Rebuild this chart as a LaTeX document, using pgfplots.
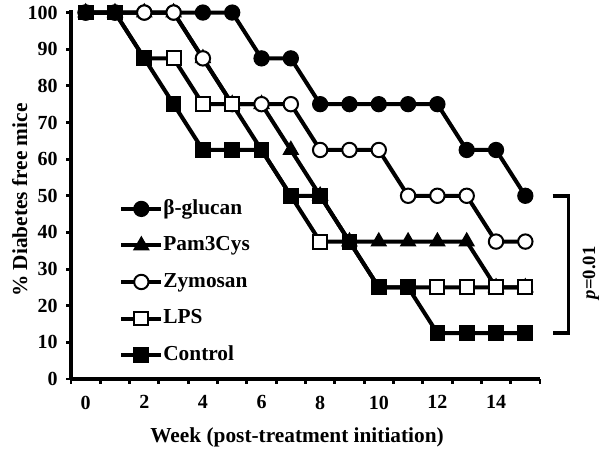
\documentclass[border=0pt]{standalone}
\usepackage{fontspec}
\setmainfont{Liberation Serif}
\usepackage{pgfplots}
\pgfplotsset{compat=1.18}
\begin{document}
\begin{tikzpicture}
\path[use as bounding box] (-53.25pt,-54.75pt) rectangle (396.75pt,284.25pt);
\begin{axis}[
  at={(0pt,0pt)}, anchor=south west,
  scale only axis, width=351.75pt, height=276.75pt,
  xmin=-0.5, xmax=15.5, ymin=0, ymax=100.7,
  axis lines*=left,
  axis line style={line width=2.8pt},
  clip=false,
  xtick={0,2,...,14},
  minor xtick={-0.5,0.5,...,15.5},
  ytick={0,10,...,100},
  tick align=outside,
  major tick length=3.5pt, minor tick length=3.5pt,
  major x tick style={draw=none},
  every tick/.style={line width=2.2pt, black},
  /pgf/number format/assume math mode=true,
  ticklabel style={font=\bfseries\fontsize{15}{18}\selectfont},
  xticklabel style={yshift=-5.5pt},
  yticklabel style={xshift=-3pt},
  xlabel={Week (post-treatment initiation)},
  ylabel={\% Diabetes free mice},
  label style={font=\bfseries\fontsize{16}{19}\selectfont},
  x label style={at={(axis description cs:0.482,0)}, yshift=-43.5pt, anchor=center},
  y label style={at={(axis description cs:-0.109,0.485)}, anchor=center},
  legend style={at={(axis cs:1.14,49.4)}, anchor=north west, draw=none, fill=none,
    inner sep=0pt, row sep=11.4pt,
    font=\bfseries\fontsize{16}{19}\selectfont,
    nodes={inner sep=0pt, text height=12pt, text depth=4pt},
    /tikz/every even column/.append style={column sep=2pt}},
  legend cell align=left,
  legend image code/.code={\draw[mark repeat=2,mark phase=2] plot coordinates {(0pt,0pt) (15pt,0pt) (30pt,0pt)};},
]
\addplot[line width=3pt, mark=*, mark size=5.6pt, mark options={solid, fill=black, line width=1pt}] coordinates {
(0,100) (1,100) (2,100) (3,100) (4,100) (5,100) (6,87.5) (7,87.5) (8,75) (9,75) (10,75) (11,75) (12,75) (13,62.5) (14,62.5) (15,50)};
\addlegendentry{β-glucan}
\addplot[line width=3pt, mark=triangle*, mark size=6.3pt, mark options={solid, fill=black, line width=1pt}] coordinates {
(0,100) (1,100) (2,100) (3,100) (4,87.5) (5,75) (6,75) (7,62.5) (8,50) (9,37.5) (10,37.5) (11,37.5) (12,37.5) (13,37.5) (14,25) (15,25)};
\addlegendentry{Pam3Cys}
\addplot[line width=3pt, mark=*, mark size=5.4pt, mark options={solid, fill=white, draw=black, line width=1.5pt}] coordinates {
(0,100) (1,100) (2,100) (3,100) (4,87.5) (5,75) (6,75) (7,75) (8,62.5) (9,62.5) (10,62.5) (11,50) (12,50) (13,50) (14,37.5) (15,37.5)};
\addlegendentry{Zymosan}
\addplot[line width=3pt, mark=square*, mark size=5.2pt, mark options={solid, fill=white, draw=black, line width=1.5pt}] coordinates {
(0,100) (1,100) (2,87.5) (3,87.5) (4,75) (5,75) (6,62.5) (7,50) (8,37.5) (9,37.5) (10,25) (11,25) (12,25) (13,25) (14,25) (15,25)};
\addlegendentry{LPS}
\addplot[line width=3pt, mark=square*, mark size=5.4pt, mark options={solid, fill=black, line width=1pt}] coordinates {
(0,100) (1,100) (2,87.5) (3,75) (4,62.5) (5,62.5) (6,62.5) (7,50) (8,50) (9,37.5) (10,25) (11,25) (12,12.5) (13,12.5) (14,12.5) (15,12.5)};
\addlegendentry{Control}
\draw[line width=2.6pt] (axis cs:15.93,50) -- (axis cs:16.48,50) -- (axis cs:16.48,12.5) -- (axis cs:15.93,12.5);
\node[rotate=90, font=\bfseries\fontsize{14}{16}\selectfont] at (axis cs:17.24,29) {\textit{p}=0.01};
\end{axis}
\end{tikzpicture}
\end{document}
